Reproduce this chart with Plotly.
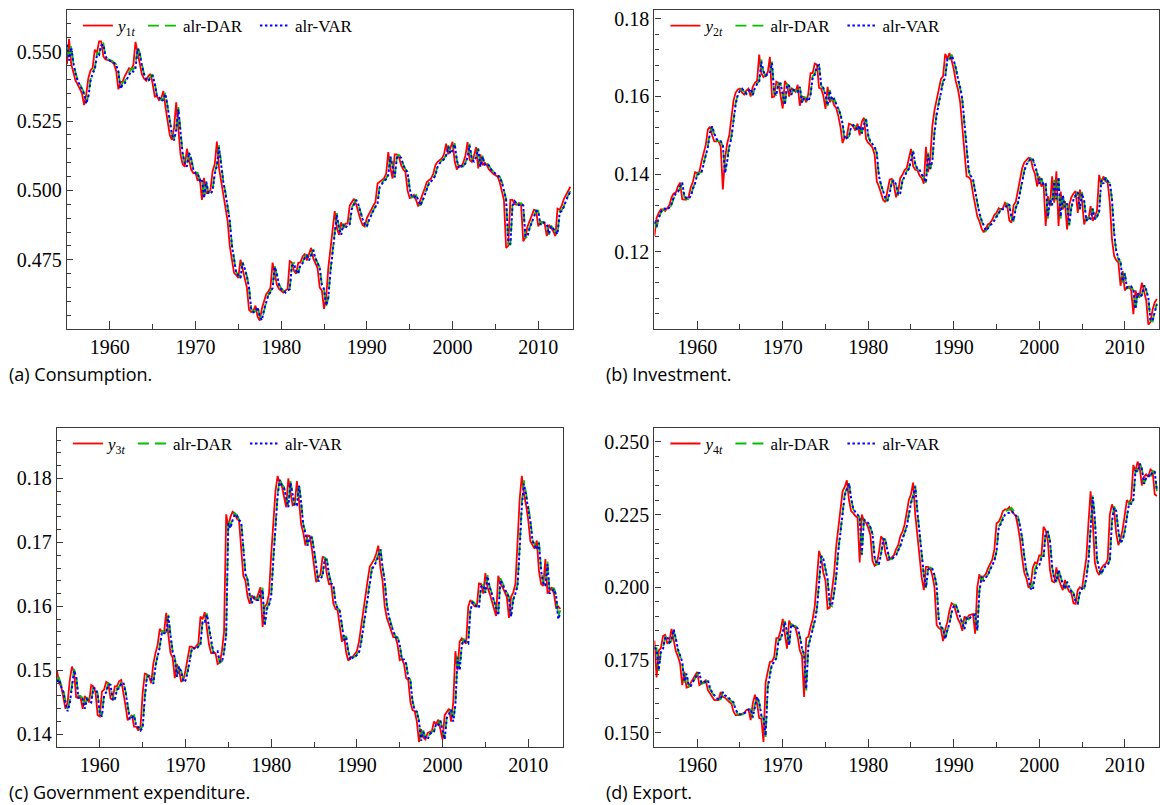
import plotly.graph_objects as go

# ---------------- data (quarterly, 1955Q1 .. 2013Q4) ----------------
START_YEAR = 1955
N_QUARTERS = 236
quarters = [START_YEAR + q / 4 for q in range(N_QUARTERS)]

x_tick_labels = [1960, 1970, 1980, 1990, 2000, 2010]

# (a) Consumption share
Y1 = [
    0.5455, 0.5545, 0.5455, 0.5420, 0.5395, 0.5382, 0.5368, 0.5350,
    0.5307, 0.5345, 0.5405, 0.5432, 0.5442, 0.5507, 0.5495, 0.5537,
    0.5537, 0.5483, 0.5472, 0.5470, 0.5468, 0.5462, 0.5455, 0.5430,
    0.5364, 0.5390, 0.5392, 0.5412, 0.5428, 0.5440, 0.5436, 0.5452,
    0.5535, 0.5495, 0.5452, 0.5418, 0.5402, 0.5395, 0.5412, 0.5420,
    0.5385, 0.5338, 0.5340, 0.5325, 0.5330, 0.5358, 0.5300, 0.5255,
    0.5200, 0.5182, 0.5225, 0.5317, 0.5215, 0.5130, 0.5095, 0.5085,
    0.5150, 0.5115, 0.5075, 0.5062, 0.5065, 0.5035, 0.5045, 0.4966,
    0.5045, 0.4990, 0.4990, 0.5002, 0.5070, 0.5095, 0.5176, 0.5080,
    0.5031, 0.4990, 0.4940, 0.4890, 0.4800, 0.4745, 0.4703, 0.4695,
    0.4685, 0.4750, 0.4720, 0.4690, 0.4650, 0.4570, 0.4562, 0.4565,
    0.4585, 0.4545, 0.4531, 0.4575, 0.4600, 0.4626, 0.4635, 0.4650,
    0.4740, 0.4700, 0.4660, 0.4645, 0.4640, 0.4632, 0.4640, 0.4645,
    0.4745, 0.4740, 0.4710, 0.4700, 0.4740, 0.4740, 0.4762, 0.4770,
    0.4748, 0.4768, 0.4793, 0.4755, 0.4735, 0.4720, 0.4650, 0.4640,
    0.4573, 0.4614, 0.4720, 0.4790, 0.4870, 0.4925, 0.4864, 0.4840,
    0.4885, 0.4864, 0.4880, 0.4880, 0.4945, 0.4958, 0.4970, 0.4950,
    0.4920, 0.4895, 0.4876, 0.4870, 0.4900, 0.4918, 0.4930, 0.4945,
    0.4958, 0.5025, 0.5030, 0.5037, 0.5043, 0.5060, 0.5138, 0.5080,
    0.5043, 0.5130, 0.5130, 0.5120, 0.5091, 0.5075, 0.5067, 0.5000,
    0.4972, 0.4975, 0.4984, 0.4965, 0.4942, 0.4965, 0.4990, 0.5007,
    0.5030, 0.5037, 0.5043, 0.5060, 0.5091, 0.5103, 0.5110, 0.5115,
    0.5130, 0.5168, 0.5130, 0.5150, 0.5175, 0.5105, 0.5075, 0.5090,
    0.5085, 0.5100, 0.5125, 0.5174, 0.5110, 0.5103, 0.5125, 0.5156,
    0.5079, 0.5130, 0.5091, 0.5100, 0.5091, 0.5075, 0.5067, 0.5060,
    0.5055, 0.5050, 0.5030, 0.5000, 0.4965, 0.4793, 0.4800, 0.4966,
    0.4966, 0.4950, 0.4948, 0.4955, 0.4948, 0.4817, 0.4830, 0.4870,
    0.4888, 0.4910, 0.4930, 0.4928, 0.4870, 0.4888, 0.4885, 0.4880,
    0.4835, 0.4876, 0.4865, 0.4853, 0.4835, 0.4934, 0.4930, 0.4946,
    0.4970, 0.4983, 0.5000, 0.5013,
]
DAR1 = [
    0.5520, 0.5470, 0.5520, 0.5460, 0.5425, 0.5398, 0.5384, 0.5370,
    0.5352, 0.5315, 0.5342, 0.5400, 0.5428, 0.5440, 0.5495, 0.5492,
    0.5528, 0.5530, 0.5485, 0.5473, 0.5470, 0.5467, 0.5461, 0.5454,
    0.5430, 0.5370, 0.5388, 0.5392, 0.5410, 0.5426, 0.5438, 0.5436,
    0.5450, 0.5520, 0.5495, 0.5455, 0.5420, 0.5404, 0.5396, 0.5410,
    0.5418, 0.5388, 0.5342, 0.5340, 0.5326, 0.5330, 0.5352, 0.5303,
    0.5258, 0.5205, 0.5185, 0.5222, 0.5300, 0.5220, 0.5135, 0.5098,
    0.5088, 0.5140, 0.5115, 0.5078, 0.5064, 0.5064, 0.5038, 0.5044,
    0.4975, 0.5035, 0.4993, 0.4990, 0.5002, 0.5065, 0.5093, 0.5162,
    0.5085, 0.5033, 0.4993, 0.4943, 0.4893, 0.4805, 0.4750, 0.4706,
    0.4696, 0.4686, 0.4742, 0.4720, 0.4692, 0.4652, 0.4575, 0.4563,
    0.4565, 0.4582, 0.4548, 0.4534, 0.4572, 0.4598, 0.4624, 0.4635,
    0.4650, 0.4728, 0.4700, 0.4662, 0.4647, 0.4641, 0.4633, 0.4640,
    0.4645, 0.4732, 0.4738, 0.4712, 0.4702, 0.4736, 0.4740, 0.4760,
    0.4768, 0.4750, 0.4766, 0.4788, 0.4757, 0.4737, 0.4722, 0.4658,
    0.4642, 0.4582, 0.4614, 0.4712, 0.4785, 0.4862, 0.4918, 0.4866,
    0.4842, 0.4880, 0.4866, 0.4879, 0.4880, 0.4938, 0.4956, 0.4968,
    0.4951, 0.4923, 0.4898, 0.4878, 0.4871, 0.4896, 0.4916, 0.4929,
    0.4943, 0.4957, 0.5018, 0.5028, 0.5036, 0.5042, 0.5058, 0.5128,
    0.5083, 0.5048, 0.5122, 0.5128, 0.5120, 0.5093, 0.5077, 0.5068,
    0.5006, 0.4975, 0.4975, 0.4983, 0.4966, 0.4945, 0.4963, 0.4987,
    0.5005, 0.5028, 0.5036, 0.5042, 0.5058, 0.5088, 0.5101, 0.5109,
    0.5114, 0.5128, 0.5163, 0.5133, 0.5148, 0.5170, 0.5110, 0.5078,
    0.5088, 0.5086, 0.5099, 0.5122, 0.5168, 0.5113, 0.5104, 0.5123,
    0.5152, 0.5085, 0.5125, 0.5093, 0.5099, 0.5090, 0.5076, 0.5068,
    0.5061, 0.5055, 0.5050, 0.5032, 0.5003, 0.4968, 0.4810, 0.4803,
    0.4950, 0.4964, 0.4951, 0.4948, 0.4954, 0.4947, 0.4830, 0.4832,
    0.4866, 0.4886, 0.4908, 0.4928, 0.4927, 0.4875, 0.4887, 0.4885,
    0.4880, 0.4840, 0.4873, 0.4864, 0.4853, 0.4840, 0.4925, 0.4929,
    0.4944, 0.4967, 0.4981, 0.4998,
]
VAR1 = [
    0.5525, 0.5468, 0.5515, 0.5458, 0.5422, 0.5395, 0.5380, 0.5366,
    0.5348, 0.5312, 0.5338, 0.5394, 0.5422, 0.5435, 0.5488, 0.5487,
    0.5522, 0.5526, 0.5483, 0.5472, 0.5468, 0.5465, 0.5459, 0.5452,
    0.5428, 0.5366, 0.5382, 0.5386, 0.5402, 0.5418, 0.5430, 0.5428,
    0.5440, 0.5510, 0.5492, 0.5452, 0.5418, 0.5401, 0.5394, 0.5406,
    0.5414, 0.5385, 0.5340, 0.5337, 0.5322, 0.5326, 0.5348, 0.5300,
    0.5255, 0.5202, 0.5180, 0.5218, 0.5292, 0.5216, 0.5132, 0.5096,
    0.5086, 0.5136, 0.5112, 0.5076, 0.5062, 0.5062, 0.5036, 0.5042,
    0.4972, 0.5032, 0.4990, 0.4988, 0.4998, 0.5060, 0.5088, 0.5155,
    0.5082, 0.5030, 0.4990, 0.4940, 0.4890, 0.4802, 0.4748, 0.4704,
    0.4694, 0.4684, 0.4738, 0.4718, 0.4690, 0.4650, 0.4573, 0.4561,
    0.4563, 0.4580, 0.4546, 0.4532, 0.4570, 0.4596, 0.4622, 0.4633,
    0.4648, 0.4724, 0.4698, 0.4660, 0.4645, 0.4640, 0.4632, 0.4639,
    0.4644, 0.4728, 0.4735, 0.4710, 0.4700, 0.4733, 0.4737, 0.4757,
    0.4765, 0.4748, 0.4763, 0.4784, 0.4755, 0.4735, 0.4720, 0.4660,
    0.4645, 0.4585, 0.4612, 0.4706, 0.4778, 0.4855, 0.4912, 0.4864,
    0.4840, 0.4876, 0.4864, 0.4876, 0.4878, 0.4934, 0.4952, 0.4965,
    0.4950, 0.4922, 0.4897, 0.4877, 0.4870, 0.4893, 0.4913, 0.4926,
    0.4940, 0.4954, 0.5012, 0.5024, 0.5033, 0.5040, 0.5055, 0.5122,
    0.5082, 0.5047, 0.5117, 0.5124, 0.5117, 0.5091, 0.5075, 0.5066,
    0.5006, 0.4976, 0.4975, 0.4982, 0.4966, 0.4946, 0.4962, 0.4985,
    0.5002, 0.5025, 0.5033, 0.5040, 0.5055, 0.5084, 0.5098, 0.5106,
    0.5112, 0.5125, 0.5158, 0.5132, 0.5145, 0.5166, 0.5110, 0.5080,
    0.5088, 0.5086, 0.5097, 0.5119, 0.5162, 0.5112, 0.5104, 0.5121,
    0.5148, 0.5086, 0.5122, 0.5093, 0.5097, 0.5089, 0.5075, 0.5067,
    0.5060, 0.5054, 0.5048, 0.5030, 0.5002, 0.4968, 0.4815, 0.4806,
    0.4945, 0.4961, 0.4950, 0.4947, 0.4952, 0.4946, 0.4835, 0.4836,
    0.4864, 0.4884, 0.4905, 0.4925, 0.4925, 0.4877, 0.4886, 0.4884,
    0.4879, 0.4843, 0.4871, 0.4863, 0.4853, 0.4842, 0.4920, 0.4926,
    0.4941, 0.4964, 0.4978, 0.4996,
]

# (b) Investment share
Y2 = [
    0.1240, 0.1287, 0.1300, 0.1309, 0.1309, 0.1305, 0.1312, 0.1320,
    0.1340, 0.1350, 0.1352, 0.1368, 0.1378, 0.1335, 0.1334, 0.1334,
    0.1342, 0.1366, 0.1380, 0.1405, 0.1403, 0.1405, 0.1432, 0.1455,
    0.1475, 0.1515, 0.1522, 0.1500, 0.1484, 0.1484, 0.1484, 0.1471,
    0.1360, 0.1440, 0.1478, 0.1500, 0.1545, 0.1590, 0.1610, 0.1618,
    0.1620, 0.1610, 0.1605, 0.1615, 0.1620, 0.1600, 0.1625, 0.1635,
    0.1640, 0.1708, 0.1660, 0.1650, 0.1655, 0.1662, 0.1702, 0.1598,
    0.1600, 0.1638, 0.1635, 0.1600, 0.1569, 0.1640, 0.1630, 0.1600,
    0.1622, 0.1616, 0.1612, 0.1630, 0.1576, 0.1600, 0.1598, 0.1585,
    0.1608, 0.1660, 0.1660, 0.1685, 0.1682, 0.1622, 0.1620, 0.1602,
    0.1568, 0.1625, 0.1585, 0.1598, 0.1578, 0.1570, 0.1550, 0.1522,
    0.1480, 0.1495, 0.1497, 0.1530, 0.1528, 0.1522, 0.1512, 0.1530,
    0.1500, 0.1535, 0.1545, 0.1490, 0.1480, 0.1475, 0.1468, 0.1450,
    0.1381, 0.1368, 0.1350, 0.1333, 0.1328, 0.1356, 0.1385, 0.1388,
    0.1372, 0.1340, 0.1355, 0.1390, 0.1398, 0.1410, 0.1415, 0.1440,
    0.1465, 0.1420, 0.1411, 0.1410, 0.1396, 0.1390, 0.1375, 0.1470,
    0.1405, 0.1440, 0.1525, 0.1565, 0.1590, 0.1620, 0.1645, 0.1652,
    0.1710, 0.1697, 0.1712, 0.1693, 0.1670, 0.1638, 0.1618, 0.1585,
    0.1520, 0.1470, 0.1394, 0.1392, 0.1385, 0.1350, 0.1318, 0.1291,
    0.1278, 0.1260, 0.1250, 0.1262, 0.1270, 0.1274, 0.1282, 0.1295,
    0.1300, 0.1312, 0.1309, 0.1312, 0.1326, 0.1320, 0.1280, 0.1275,
    0.1320, 0.1328, 0.1360, 0.1390, 0.1415, 0.1430, 0.1436, 0.1442,
    0.1440, 0.1415, 0.1400, 0.1368, 0.1394, 0.1368, 0.1377, 0.1266,
    0.1343, 0.1317, 0.1394, 0.1326, 0.1407, 0.1266, 0.1355, 0.1309,
    0.1330, 0.1257, 0.1320, 0.1340, 0.1350, 0.1356, 0.1300, 0.1360,
    0.1330, 0.1270, 0.1290, 0.1283, 0.1317, 0.1279, 0.1290, 0.1305,
    0.1398, 0.1373, 0.1394, 0.1381, 0.1378, 0.1326, 0.1232, 0.1189,
    0.1178, 0.1172, 0.1112, 0.1150, 0.1100, 0.1108, 0.1110, 0.1100,
    0.1039, 0.1100, 0.1082, 0.1090, 0.1120, 0.1100, 0.1075, 0.1012,
    0.1018, 0.1050, 0.1069, 0.1078,
]
DAR2 = [
    0.1275, 0.1262, 0.1285, 0.1300, 0.1308, 0.1309, 0.1306, 0.1312,
    0.1320, 0.1337, 0.1348, 0.1352, 0.1365, 0.1375, 0.1340, 0.1336,
    0.1335, 0.1342, 0.1363, 0.1378, 0.1401, 0.1403, 0.1405, 0.1428,
    0.1451, 0.1472, 0.1510, 0.1520, 0.1502, 0.1487, 0.1485, 0.1484,
    0.1472, 0.1405, 0.1436, 0.1474, 0.1497, 0.1540, 0.1584, 0.1606,
    0.1616, 0.1619, 0.1611, 0.1606, 0.1614, 0.1619, 0.1603, 0.1623,
    0.1633, 0.1640, 0.1695, 0.1663, 0.1652, 0.1655, 0.1661, 0.1690,
    0.1608, 0.1602, 0.1634, 0.1634, 0.1603, 0.1575, 0.1632, 0.1628,
    0.1603, 0.1618, 0.1616, 0.1613, 0.1627, 0.1582, 0.1598, 0.1597,
    0.1587, 0.1605, 0.1652, 0.1659, 0.1680, 0.1680, 0.1628, 0.1621,
    0.1604, 0.1575, 0.1617, 0.1588, 0.1595, 0.1580, 0.1571, 0.1553,
    0.1527, 0.1487, 0.1494, 0.1497, 0.1525, 0.1527, 0.1523, 0.1514,
    0.1527, 0.1504, 0.1530, 0.1542, 0.1498, 0.1482, 0.1476, 0.1469,
    0.1453, 0.1392, 0.1371, 0.1353, 0.1337, 0.1330, 0.1352, 0.1380,
    0.1386, 0.1374, 0.1345, 0.1352, 0.1384, 0.1396, 0.1408, 0.1414,
    0.1436, 0.1460, 0.1425, 0.1412, 0.1410, 0.1398, 0.1391, 0.1378,
    0.1455, 0.1412, 0.1435, 0.1512, 0.1558, 0.1585, 0.1615, 0.1640,
    0.1650, 0.1700, 0.1696, 0.1708, 0.1692, 0.1672, 0.1642, 0.1621,
    0.1590, 0.1530, 0.1478, 0.1405, 0.1393, 0.1386, 0.1355, 0.1323,
    0.1296, 0.1280, 0.1263, 0.1253, 0.1261, 0.1269, 0.1273, 0.1281,
    0.1293, 0.1299, 0.1310, 0.1309, 0.1312, 0.1324, 0.1320, 0.1286,
    0.1278, 0.1315, 0.1326, 0.1355, 0.1385, 0.1410, 0.1427, 0.1434,
    0.1440, 0.1438, 0.1418, 0.1402, 0.1373, 0.1390, 0.1370, 0.1375,
    0.1285, 0.1336, 0.1318, 0.1385, 0.1332, 0.1396, 0.1285, 0.1348,
    0.1313, 0.1326, 0.1267, 0.1315, 0.1336, 0.1347, 0.1354, 0.1308,
    0.1353, 0.1330, 0.1278, 0.1289, 0.1284, 0.1312, 0.1283, 0.1290,
    0.1303, 0.1388, 0.1374, 0.1391, 0.1381, 0.1377, 0.1333, 0.1245,
    0.1198, 0.1180, 0.1173, 0.1120, 0.1145, 0.1105, 0.1107, 0.1109,
    0.1101, 0.1048, 0.1095, 0.1083, 0.1089, 0.1115, 0.1101, 0.1079,
    0.1022, 0.1020, 0.1046, 0.1066,
]
VAR2 = [
    0.1278, 0.1265, 0.1287, 0.1302, 0.1310, 0.1311, 0.1308, 0.1314,
    0.1323, 0.1340, 0.1350, 0.1355, 0.1368, 0.1378, 0.1343, 0.1338,
    0.1336, 0.1343, 0.1362, 0.1376, 0.1398, 0.1402, 0.1404, 0.1425,
    0.1448, 0.1470, 0.1507, 0.1523, 0.1505, 0.1490, 0.1487, 0.1485,
    0.1474, 0.1402, 0.1432, 0.1470, 0.1493, 0.1535, 0.1580, 0.1604,
    0.1615, 0.1620, 0.1612, 0.1607, 0.1614, 0.1620, 0.1604, 0.1622,
    0.1632, 0.1638, 0.1690, 0.1665, 0.1654, 0.1656, 0.1660, 0.1686,
    0.1610, 0.1603, 0.1632, 0.1633, 0.1604, 0.1578, 0.1630, 0.1627,
    0.1604, 0.1617, 0.1615, 0.1612, 0.1625, 0.1584, 0.1597, 0.1596,
    0.1588, 0.1603, 0.1648, 0.1656, 0.1678, 0.1681, 0.1630, 0.1622,
    0.1605, 0.1577, 0.1615, 0.1590, 0.1594, 0.1581, 0.1572, 0.1555,
    0.1530, 0.1490, 0.1493, 0.1496, 0.1522, 0.1526, 0.1522, 0.1513,
    0.1525, 0.1505, 0.1528, 0.1540, 0.1500, 0.1484, 0.1477, 0.1470,
    0.1455, 0.1395, 0.1373, 0.1355, 0.1338, 0.1331, 0.1350, 0.1377,
    0.1384, 0.1373, 0.1346, 0.1351, 0.1381, 0.1394, 0.1406, 0.1413,
    0.1433, 0.1458, 0.1426, 0.1413, 0.1411, 0.1399, 0.1392, 0.1379,
    0.1450, 0.1414, 0.1433, 0.1507, 0.1553, 0.1581, 0.1611, 0.1637,
    0.1648, 0.1696, 0.1695, 0.1705, 0.1693, 0.1673, 0.1645, 0.1624,
    0.1593, 0.1535, 0.1482, 0.1410, 0.1395, 0.1387, 0.1357, 0.1326,
    0.1299, 0.1282, 0.1265, 0.1254, 0.1260, 0.1268, 0.1272, 0.1280,
    0.1291, 0.1298, 0.1309, 0.1309, 0.1311, 0.1323, 0.1320, 0.1288,
    0.1280, 0.1312, 0.1324, 0.1351, 0.1381, 0.1407, 0.1425, 0.1433,
    0.1440, 0.1439, 0.1420, 0.1404, 0.1375, 0.1388, 0.1371, 0.1374,
    0.1290, 0.1333, 0.1320, 0.1380, 0.1335, 0.1392, 0.1290, 0.1345,
    0.1315, 0.1324, 0.1270, 0.1313, 0.1334, 0.1346, 0.1353, 0.1310,
    0.1350, 0.1331, 0.1280, 0.1288, 0.1285, 0.1310, 0.1284, 0.1290,
    0.1302, 0.1384, 0.1375, 0.1390, 0.1382, 0.1378, 0.1336, 0.1250,
    0.1202, 0.1183, 0.1174, 0.1123, 0.1143, 0.1107, 0.1108, 0.1110,
    0.1102, 0.1052, 0.1093, 0.1084, 0.1088, 0.1113, 0.1102, 0.1081,
    0.1025, 0.1021, 0.1044, 0.1064,
]

# (c) Government expenditure share
Y3 = [
    0.1500, 0.1480, 0.1475, 0.1455, 0.1440, 0.1450, 0.1485, 0.1506,
    0.1497, 0.1457, 0.1460, 0.1458, 0.1440, 0.1460, 0.1455, 0.1450,
    0.1477, 0.1475, 0.1466, 0.1430, 0.1428, 0.1467, 0.1470, 0.1482,
    0.1480, 0.1456, 0.1454, 0.1475, 0.1475, 0.1483, 0.1485, 0.1468,
    0.1445, 0.1422, 0.1427, 0.1430, 0.1412, 0.1412, 0.1406, 0.1412,
    0.1464, 0.1495, 0.1494, 0.1490, 0.1480, 0.1511, 0.1527, 0.1540,
    0.1565, 0.1560, 0.1560, 0.1590, 0.1555, 0.1527, 0.1520, 0.1488,
    0.1510, 0.1500, 0.1482, 0.1485, 0.1500, 0.1521, 0.1537, 0.1537,
    0.1534, 0.1538, 0.1542, 0.1584, 0.1580, 0.1591, 0.1568, 0.1540,
    0.1527, 0.1527, 0.1527, 0.1510, 0.1512, 0.1530, 0.1560, 0.1744,
    0.1725, 0.1740, 0.1748, 0.1745, 0.1737, 0.1734, 0.1690, 0.1648,
    0.1640, 0.1615, 0.1604, 0.1617, 0.1612, 0.1610, 0.1620, 0.1630,
    0.1568, 0.1600, 0.1604, 0.1620, 0.1680, 0.1731, 0.1780, 0.1804,
    0.1792, 0.1788, 0.1770, 0.1755, 0.1800, 0.1780, 0.1758, 0.1760,
    0.1796, 0.1765, 0.1728, 0.1715, 0.1695, 0.1711, 0.1710, 0.1690,
    0.1660, 0.1638, 0.1645, 0.1650, 0.1678, 0.1675, 0.1650, 0.1635,
    0.1635, 0.1605, 0.1596, 0.1594, 0.1570, 0.1545, 0.1555, 0.1528,
    0.1515, 0.1521, 0.1521, 0.1525, 0.1530, 0.1545, 0.1570, 0.1595,
    0.1622, 0.1640, 0.1662, 0.1668, 0.1673, 0.1682, 0.1695, 0.1660,
    0.1640, 0.1600, 0.1582, 0.1572, 0.1560, 0.1552, 0.1552, 0.1540,
    0.1516, 0.1518, 0.1510, 0.1488, 0.1485, 0.1450, 0.1438, 0.1436,
    0.1420, 0.1388, 0.1408, 0.1395, 0.1392, 0.1402, 0.1404, 0.1405,
    0.1420, 0.1416, 0.1423, 0.1408, 0.1392, 0.1430, 0.1435, 0.1440,
    0.1420, 0.1450, 0.1530, 0.1500, 0.1545, 0.1550, 0.1545, 0.1542,
    0.1600, 0.1610, 0.1605, 0.1600, 0.1600, 0.1636, 0.1635, 0.1620,
    0.1652, 0.1630, 0.1620, 0.1608, 0.1598, 0.1585, 0.1648, 0.1636,
    0.1630, 0.1622, 0.1615, 0.1582, 0.1615, 0.1622, 0.1635, 0.1700,
    0.1768, 0.1804, 0.1776, 0.1758, 0.1735, 0.1702, 0.1695, 0.1690,
    0.1703, 0.1655, 0.1635, 0.1632, 0.1674, 0.1620, 0.1625, 0.1630,
    0.1620, 0.1598, 0.1600, 0.1596,
]
DAR3 = [
    0.1485, 0.1488, 0.1478, 0.1470, 0.1452, 0.1440, 0.1452, 0.1482,
    0.1502, 0.1492, 0.1460, 0.1460, 0.1457, 0.1443, 0.1458, 0.1454,
    0.1451, 0.1474, 0.1473, 0.1464, 0.1434, 0.1430, 0.1463, 0.1468,
    0.1480, 0.1478, 0.1457, 0.1455, 0.1472, 0.1474, 0.1481, 0.1482,
    0.1468, 0.1446, 0.1425, 0.1428, 0.1430, 0.1415, 0.1413, 0.1408,
    0.1413, 0.1460, 0.1492, 0.1492, 0.1488, 0.1481, 0.1508, 0.1524,
    0.1538, 0.1562, 0.1559, 0.1560, 0.1587, 0.1556, 0.1530, 0.1522,
    0.1492, 0.1508, 0.1500, 0.1484, 0.1486, 0.1499, 0.1519, 0.1535,
    0.1536, 0.1534, 0.1538, 0.1542, 0.1580, 0.1579, 0.1589, 0.1568,
    0.1542, 0.1529, 0.1528, 0.1527, 0.1512, 0.1514, 0.1530, 0.1560,
    0.1735, 0.1725, 0.1738, 0.1746, 0.1743, 0.1736, 0.1733, 0.1692,
    0.1652, 0.1642, 0.1618, 0.1606, 0.1616, 0.1612, 0.1611, 0.1620,
    0.1629, 0.1572, 0.1598, 0.1604, 0.1618, 0.1675, 0.1727, 0.1776,
    0.1800, 0.1791, 0.1787, 0.1770, 0.1757, 0.1796, 0.1779, 0.1759,
    0.1760, 0.1792, 0.1764, 0.1729, 0.1716, 0.1697, 0.1710, 0.1709,
    0.1690, 0.1662, 0.1640, 0.1645, 0.1650, 0.1676, 0.1674, 0.1651,
    0.1637, 0.1635, 0.1607, 0.1597, 0.1594, 0.1572, 0.1548, 0.1554,
    0.1530, 0.1517, 0.1521, 0.1521, 0.1525, 0.1530, 0.1545, 0.1569,
    0.1594, 0.1620, 0.1639, 0.1660, 0.1667, 0.1672, 0.1681, 0.1692,
    0.1662, 0.1641, 0.1603, 0.1584, 0.1573, 0.1561, 0.1553, 0.1552,
    0.1541, 0.1518, 0.1518, 0.1511, 0.1490, 0.1485, 0.1452, 0.1439,
    0.1436, 0.1421, 0.1392, 0.1406, 0.1396, 0.1393, 0.1401, 0.1404,
    0.1405, 0.1418, 0.1416, 0.1422, 0.1409, 0.1394, 0.1428, 0.1434,
    0.1439, 0.1422, 0.1448, 0.1524, 0.1502, 0.1542, 0.1549, 0.1545,
    0.1543, 0.1596, 0.1608, 0.1605, 0.1600, 0.1600, 0.1633, 0.1634,
    0.1622, 0.1649, 0.1631, 0.1621, 0.1609, 0.1599, 0.1587, 0.1644,
    0.1636, 0.1630, 0.1622, 0.1615, 0.1585, 0.1612, 0.1621, 0.1634,
    0.1695, 0.1762, 0.1797, 0.1776, 0.1758, 0.1736, 0.1704, 0.1696,
    0.1690, 0.1701, 0.1658, 0.1637, 0.1633, 0.1670, 0.1622, 0.1625,
    0.1629, 0.1618, 0.1584, 0.1594,
]
VAR3 = [
    0.1482, 0.1486, 0.1474, 0.1466, 0.1448, 0.1436, 0.1448, 0.1478,
    0.1500, 0.1490, 0.1457, 0.1458, 0.1455, 0.1440, 0.1455, 0.1452,
    0.1450, 0.1472, 0.1472, 0.1463, 0.1432, 0.1428, 0.1460, 0.1466,
    0.1478, 0.1477, 0.1455, 0.1453, 0.1470, 0.1472, 0.1479, 0.1481,
    0.1467, 0.1445, 0.1423, 0.1426, 0.1429, 0.1413, 0.1411, 0.1406,
    0.1410, 0.1456, 0.1490, 0.1491, 0.1487, 0.1479, 0.1506, 0.1522,
    0.1536, 0.1560, 0.1558, 0.1558, 0.1585, 0.1555, 0.1528, 0.1520,
    0.1490, 0.1506, 0.1498, 0.1482, 0.1484, 0.1497, 0.1517, 0.1534,
    0.1535, 0.1533, 0.1537, 0.1541, 0.1577, 0.1576, 0.1587, 0.1567,
    0.1541, 0.1528, 0.1529, 0.1530, 0.1514, 0.1513, 0.1528, 0.1556,
    0.1730, 0.1722, 0.1735, 0.1744, 0.1742, 0.1735, 0.1732, 0.1690,
    0.1650, 0.1641, 0.1617, 0.1605, 0.1614, 0.1610, 0.1610, 0.1618,
    0.1626, 0.1570, 0.1596, 0.1602, 0.1616, 0.1672, 0.1724, 0.1773,
    0.1798, 0.1789, 0.1785, 0.1768, 0.1755, 0.1793, 0.1777, 0.1757,
    0.1758, 0.1789, 0.1762, 0.1727, 0.1714, 0.1695, 0.1708, 0.1707,
    0.1688, 0.1660, 0.1639, 0.1643, 0.1648, 0.1674, 0.1672, 0.1649,
    0.1636, 0.1634, 0.1606, 0.1596, 0.1593, 0.1571, 0.1547, 0.1552,
    0.1529, 0.1516, 0.1520, 0.1520, 0.1524, 0.1528, 0.1543, 0.1567,
    0.1592, 0.1617, 0.1636, 0.1657, 0.1664, 0.1669, 0.1678, 0.1689,
    0.1661, 0.1640, 0.1602, 0.1583, 0.1571, 0.1560, 0.1552, 0.1551,
    0.1540, 0.1517, 0.1517, 0.1510, 0.1489, 0.1484, 0.1451, 0.1438,
    0.1435, 0.1420, 0.1390, 0.1404, 0.1395, 0.1392, 0.1400, 0.1403,
    0.1404, 0.1417, 0.1415, 0.1421, 0.1408, 0.1392, 0.1426, 0.1432,
    0.1438, 0.1420, 0.1446, 0.1520, 0.1500, 0.1540, 0.1547, 0.1544,
    0.1542, 0.1594, 0.1606, 0.1604, 0.1599, 0.1598, 0.1631, 0.1633,
    0.1621, 0.1647, 0.1630, 0.1620, 0.1608, 0.1598, 0.1586, 0.1641,
    0.1634, 0.1629, 0.1621, 0.1614, 0.1584, 0.1610, 0.1620, 0.1632,
    0.1690, 0.1756, 0.1792, 0.1773, 0.1755, 0.1733, 0.1702, 0.1694,
    0.1689, 0.1699, 0.1656, 0.1636, 0.1632, 0.1666, 0.1620, 0.1623,
    0.1627, 0.1617, 0.1580, 0.1590,
]

# (d) Export share
Y4 = [
    0.1817, 0.1690, 0.1783, 0.1790, 0.1832, 0.1836, 0.1806, 0.1815,
    0.1857, 0.1822, 0.1780, 0.1762, 0.1737, 0.1663, 0.1710, 0.1655,
    0.1657, 0.1672, 0.1686, 0.1700, 0.1709, 0.1663, 0.1669, 0.1672,
    0.1680, 0.1646, 0.1634, 0.1620, 0.1612, 0.1612, 0.1612, 0.1640,
    0.1623, 0.1620, 0.1612, 0.1605, 0.1600, 0.1572, 0.1560, 0.1561,
    0.1560, 0.1565, 0.1568, 0.1578, 0.1580, 0.1543, 0.1600, 0.1630,
    0.1600, 0.1550, 0.1548, 0.1468, 0.1672, 0.1710, 0.1743, 0.1745,
    0.1760, 0.1825, 0.1825, 0.1850, 0.1891, 0.1840, 0.1789, 0.1885,
    0.1868, 0.1869, 0.1860, 0.1829, 0.1783, 0.1765, 0.1623, 0.1825,
    0.1830, 0.1863, 0.1890, 0.1935, 0.2050, 0.2125, 0.2100, 0.2050,
    0.2023, 0.1926, 0.1930, 0.1985, 0.2045, 0.2140, 0.2210, 0.2280,
    0.2330, 0.2345, 0.2368, 0.2300, 0.2262, 0.2255, 0.2245, 0.2240,
    0.2085, 0.2250, 0.2228, 0.2222, 0.2205, 0.2180, 0.2091, 0.2074,
    0.2080, 0.2120, 0.2175, 0.2165, 0.2120, 0.2093, 0.2095, 0.2103,
    0.2110, 0.2130, 0.2145, 0.2175, 0.2190, 0.2215, 0.2265, 0.2300,
    0.2320, 0.2360, 0.2250, 0.2180, 0.2091, 0.2034, 0.1990, 0.2070,
    0.2070, 0.2065, 0.2040, 0.2000, 0.1870, 0.1860, 0.1855, 0.1815,
    0.1855, 0.1880, 0.1920, 0.1945, 0.1940, 0.1915, 0.1890, 0.1876,
    0.1850, 0.1900, 0.1888, 0.1903, 0.1905, 0.1908, 0.1840, 0.2000,
    0.2045, 0.2020, 0.2037, 0.2045, 0.2065, 0.2083, 0.2095, 0.2130,
    0.2220, 0.2225, 0.2240, 0.2262, 0.2268, 0.2268, 0.2276, 0.2263,
    0.2255, 0.2245, 0.2210, 0.2165, 0.2100, 0.2050, 0.2030, 0.1998,
    0.2008, 0.2068, 0.2085, 0.2082, 0.2110, 0.2108, 0.2208, 0.2195,
    0.2160, 0.2060, 0.2020, 0.2017, 0.2068, 0.2030, 0.2008, 0.1990,
    0.2025, 0.2000, 0.1985, 0.1980, 0.1945, 0.1943, 0.1990, 0.2000,
    0.1995, 0.2040, 0.2100, 0.2220, 0.2330, 0.2230, 0.2085, 0.2055,
    0.2042, 0.2065, 0.2075, 0.2080, 0.2095, 0.2250, 0.2285, 0.2265,
    0.2185, 0.2145, 0.2165, 0.2200, 0.2245, 0.2300, 0.2290, 0.2305,
    0.2420, 0.2400, 0.2432, 0.2410, 0.2350, 0.2380, 0.2388, 0.2380,
    0.2405, 0.2400, 0.2320, 0.2314,
]
DAR4 = [
    0.1795, 0.1790, 0.1712, 0.1780, 0.1790, 0.1828, 0.1833, 0.1808,
    0.1815, 0.1852, 0.1822, 0.1783, 0.1763, 0.1740, 0.1672, 0.1706,
    0.1660, 0.1660, 0.1673, 0.1686, 0.1699, 0.1706, 0.1668, 0.1670,
    0.1673, 0.1680, 0.1649, 0.1636, 0.1624, 0.1615, 0.1614, 0.1614,
    0.1638, 0.1625, 0.1621, 0.1614, 0.1607, 0.1602, 0.1576, 0.1563,
    0.1562, 0.1562, 0.1566, 0.1569, 0.1578, 0.1580, 0.1550, 0.1596,
    0.1625, 0.1603, 0.1556, 0.1550, 0.1485, 0.1660, 0.1705, 0.1738,
    0.1744, 0.1758, 0.1818, 0.1824, 0.1846, 0.1884, 0.1845, 0.1798,
    0.1875, 0.1867, 0.1867, 0.1859, 0.1832, 0.1789, 0.1768, 0.1645,
    0.1800, 0.1826, 0.1858, 0.1886, 0.1928, 0.2035, 0.2110, 0.2098,
    0.2055, 0.2025, 0.1940, 0.1935, 0.1980, 0.2038, 0.2128, 0.2198,
    0.2268, 0.2320, 0.2340, 0.2360, 0.2305, 0.2268, 0.2257, 0.2247,
    0.2240, 0.2110, 0.2235, 0.2226, 0.2222, 0.2206, 0.2183, 0.2100,
    0.2078, 0.2080, 0.2115, 0.2168, 0.2165, 0.2125, 0.2097, 0.2096,
    0.2103, 0.2110, 0.2128, 0.2143, 0.2170, 0.2187, 0.2212, 0.2258,
    0.2293, 0.2316, 0.2350, 0.2258, 0.2188, 0.2100, 0.2040, 0.1998,
    0.2062, 0.2068, 0.2064, 0.2042, 0.2005, 0.1885, 0.1862, 0.1856,
    0.1820, 0.1852, 0.1877, 0.1915, 0.1940, 0.1940, 0.1918, 0.1893,
    0.1878, 0.1855, 0.1895, 0.1889, 0.1900, 0.1904, 0.1907, 0.1850,
    0.1990, 0.2040, 0.2022, 0.2035, 0.2043, 0.2062, 0.2080, 0.2093,
    0.2125, 0.2208, 0.2222, 0.2238, 0.2258, 0.2265, 0.2266, 0.2273,
    0.2262, 0.2254, 0.2244, 0.2212, 0.2170, 0.2106, 0.2056, 0.2033,
    0.2002, 0.2008, 0.2062, 0.2082, 0.2081, 0.2106, 0.2107, 0.2195,
    0.2192, 0.2162, 0.2070, 0.2025, 0.2018, 0.2062, 0.2032, 0.2010,
    0.1994, 0.2020, 0.2002, 0.1987, 0.1981, 0.1950, 0.1944, 0.1984,
    0.1998, 0.1996, 0.2034, 0.2092, 0.2205, 0.2315, 0.2235, 0.2095,
    0.2060, 0.2045, 0.2062, 0.2073, 0.2079, 0.2093, 0.2232, 0.2278,
    0.2262, 0.2192, 0.2150, 0.2163, 0.2195, 0.2240, 0.2292, 0.2289,
    0.2302, 0.2405, 0.2400, 0.2428, 0.2408, 0.2355, 0.2377, 0.2385,
    0.2380, 0.2400, 0.2398, 0.2330,
]
VAR4 = [
    0.1792, 0.1786, 0.1715, 0.1776, 0.1788, 0.1825, 0.1831, 0.1810,
    0.1817, 0.1855, 0.1824, 0.1786, 0.1766, 0.1743, 0.1676, 0.1703,
    0.1662, 0.1661, 0.1674, 0.1687, 0.1700, 0.1707, 0.1671, 0.1672,
    0.1675, 0.1681, 0.1652, 0.1639, 0.1627, 0.1618, 0.1616, 0.1616,
    0.1640, 0.1628, 0.1624, 0.1617, 0.1610, 0.1604, 0.1579, 0.1566,
    0.1564, 0.1563, 0.1567, 0.1570, 0.1579, 0.1581, 0.1553, 0.1594,
    0.1623, 0.1605, 0.1560, 0.1552, 0.1490, 0.1655, 0.1702, 0.1735,
    0.1742, 0.1756, 0.1814, 0.1822, 0.1843, 0.1880, 0.1846, 0.1801,
    0.1872, 0.1866, 0.1866, 0.1858, 0.1833, 0.1792, 0.1770, 0.1650,
    0.1796, 0.1823, 0.1855, 0.1883, 0.1925, 0.2030, 0.2106, 0.2097,
    0.2056, 0.2027, 0.1943, 0.1936, 0.1978, 0.2035, 0.2124, 0.2194,
    0.2264, 0.2316, 0.2337, 0.2357, 0.2306, 0.2270, 0.2258, 0.2248,
    0.2241, 0.2113, 0.2232, 0.2225, 0.2221, 0.2206, 0.2184, 0.2103,
    0.2080, 0.2081, 0.2113, 0.2165, 0.2164, 0.2126, 0.2098, 0.2097,
    0.2103, 0.2109, 0.2126, 0.2141, 0.2167, 0.2184, 0.2208, 0.2254,
    0.2289, 0.2312, 0.2346, 0.2260, 0.2190, 0.2103, 0.2043, 0.2000,
    0.2060, 0.2067, 0.2063, 0.2041, 0.2006, 0.1888, 0.1864, 0.1857,
    0.1822, 0.1851, 0.1875, 0.1912, 0.1937, 0.1938, 0.1917, 0.1893,
    0.1879, 0.1856, 0.1893, 0.1888, 0.1899, 0.1903, 0.1906, 0.1853,
    0.1985, 0.2036, 0.2021, 0.2034, 0.2042, 0.2060, 0.2078, 0.2091,
    0.2122, 0.2202, 0.2217, 0.2232, 0.2250, 0.2255, 0.2256, 0.2262,
    0.2255, 0.2250, 0.2240, 0.2210, 0.2168, 0.2105, 0.2055, 0.2032,
    0.1995, 0.1990, 0.2040, 0.2070, 0.2076, 0.2100, 0.2104, 0.2188,
    0.2190, 0.2160, 0.2072, 0.2027, 0.2020, 0.2060, 0.2033, 0.2011,
    0.1995, 0.2018, 0.2001, 0.1986, 0.1980, 0.1951, 0.1945, 0.1982,
    0.1996, 0.1995, 0.2030, 0.2088, 0.2198, 0.2310, 0.2236, 0.2098,
    0.2062, 0.2046, 0.2062, 0.2073, 0.2078, 0.2091, 0.2226, 0.2274,
    0.2262, 0.2194, 0.2152, 0.2163, 0.2193, 0.2237, 0.2288, 0.2287,
    0.2300, 0.2400, 0.2398, 0.2425, 0.2407, 0.2356, 0.2376, 0.2384,
    0.2380, 0.2398, 0.2396, 0.2332,
]

captions = ["(a) Consumption.", "(b) Investment.",
            "(c) Government expenditure.", "(d) Export."]
y_tick_values = [
    [0.475, 0.500, 0.525, 0.550],
    [0.12, 0.14, 0.16, 0.18],
    [0.14, 0.15, 0.16, 0.17, 0.18],
    [0.150, 0.175, 0.200, 0.225, 0.250],
]
series = [(Y1, DAR1, VAR1), (Y2, DAR2, VAR2), (Y3, DAR3, VAR3), (Y4, DAR4, VAR4)]

# ---------------- layout / styling ----------------
W, H = 1160, 805
SERIF = "Liberation Serif, Times New Roman, serif"
SANS = "Open Sans, Noto Sans, sans-serif"
AX_COLOR = "#3a3a3a"

# plot areas in pixels: (left, right, top, bottom)
boxes = [(67, 573, 8, 328), (655, 1160, 8, 328),
         (57, 563, 427, 747), (655, 1160, 427, 747)]
y_ranges = [[0.450, 0.565], [0.100, 0.1823], [0.138, 0.1879], [0.145, 0.2548]]
y_formats = [".3f", ".2f", ".2f", ".3f"]
y_minor = [(0.45, 0.005), (0.10, 0.004), (0.14, 0.002), (0.15, 0.005)]
legend_pos = [(78, 6), (666, 6), (68, 425), (666, 425)]
caption_pos = [(7, 373), (605, 373), (7, 792), (605, 792)]

fig = go.Figure()
layout = dict(
    width=W, height=H, margin=dict(l=0, r=0, t=0, b=0),
    paper_bgcolor="white", plot_bgcolor="white", showlegend=True,
    annotations=[],
)

for k in range(4):
    sfx = "" if k == 0 else str(k + 1)
    leg = "legend" if k == 0 else "legend" + str(k + 1)
    y, dar, var = series[k]
    sub = str(k + 1)
    fig.add_trace(go.Scatter(
        x=quarters[:len(y)], y=y, mode="lines",
        name="<i>y</i><sub>" + sub + "<i>t</i></sub>",
        line=dict(color="#ff0000", width=1.8), xaxis="x" + sfx, yaxis="y" + sfx,
        legend=leg, legendwidth=20))
    fig.add_trace(go.Scatter(
        x=quarters[:len(dar)], y=dar, mode="lines", name="alr-DAR",
        line=dict(color="#00c000", width=1.8, dash="11px,6px"),
        xaxis="x" + sfx, yaxis="y" + sfx, legend=leg, legendwidth=67))
    fig.add_trace(go.Scatter(
        x=quarters[:len(var)], y=var, mode="lines", name="alr-VAR",
        line=dict(color="#0000ff", width=2.0, dash="2.5px,2.5px"),
        xaxis="x" + sfx, yaxis="y" + sfx, legend=leg, legendwidth=60))

    l, r, t, b = boxes[k]
    layout["xaxis" + sfx] = dict(
        domain=[l / W, min(r / W, 1.0)], range=[1955, 2014],
        anchor="y" + sfx, showgrid=False, zeroline=False,
        showline=True, linecolor=AX_COLOR, linewidth=1.3, mirror=True,
        ticks="inside", ticklen=8, tickwidth=1.2, tickcolor=AX_COLOR,
        tickvals=x_tick_labels, ticktext=[str(v) for v in x_tick_labels],
        tickfont=dict(family=SERIF, size=20, color="black"),
        minor=dict(dtick=5, tick0=1955, ticks="inside", ticklen=5,
                   tickcolor=AX_COLOR, tickwidth=1.0, showgrid=False),
    )
    t0, dt = y_minor[k]
    layout["yaxis" + sfx] = dict(
        domain=[1 - b / H, 1 - t / H], range=y_ranges[k],
        anchor="x" + sfx, showgrid=False, zeroline=False,
        showline=True, linecolor=AX_COLOR, linewidth=1.3, mirror=True,
        ticks="inside", ticklen=6, tickwidth=1.2, tickcolor=AX_COLOR,
        tickvals=y_tick_values[k], tickformat=y_formats[k],
        tickfont=dict(family=SERIF, size=20, color="black"),
        minor=dict(dtick=dt, tick0=t0, ticks="inside", ticklen=4,
                   tickcolor=AX_COLOR, tickwidth=1.0, showgrid=False),
    )
    lx, ly = legend_pos[k]
    layout[leg] = dict(
        x=lx / W, y=1 - ly / H, xanchor="left", yanchor="top",
        orientation="h", bgcolor="rgba(0,0,0,0)", borderwidth=0,
        font=dict(family=SERIF, size=17, color="black"),
        itemwidth=30,
    )
    cx, cy = caption_pos[k]
    layout["annotations"].append(dict(
        text=captions[k], xref="paper", yref="paper", x=cx / W, y=1 - cy / H,
        xanchor="left", yanchor="middle", showarrow=False,
        font=dict(family=SANS, size=18, color="black")))

fig.update_layout(**layout)
fig.write_html(
    "out.html",
    config={"displayModeBar": False},
    post_script="document.body.style.margin='0';document.body.style.overflow='hidden';",
)
